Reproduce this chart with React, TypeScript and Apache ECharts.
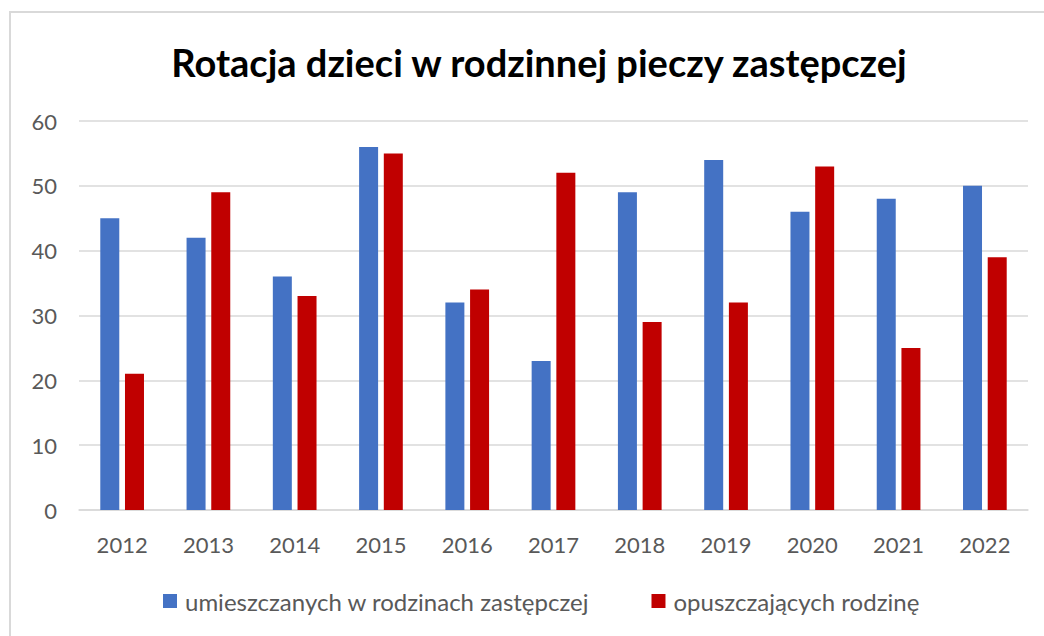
import React, { useEffect, useRef } from "react";
import * as echarts from "echarts";

const years = ["2012", "2013", "2014", "2015", "2016", "2017", "2018", "2019", "2020", "2021", "2022"];
const placed = [45, 42, 36, 56, 32, 23, 49, 54, 46, 48, 50];
const leaving = [21, 49, 33, 55, 34, 52, 29, 32, 53, 25, 39];
const seriesNames = ["umieszczanych w rodzinach zastępczej", "opuszczających rodzinę"];
const titleText = "Rotacja dzieci w rodzinnej pieczy zastępczej";

const FONT = "Lato";

export default function App() {
  const ref = useRef<HTMLDivElement>(null);
  useEffect(() => {
    if (!ref.current) return;
    const chart = echarts.init(ref.current, undefined, { renderer: "svg" });
    chart.setOption({
      animation: false,
      backgroundColor: "#ffffff",
      title: {
        text: titleText,
        left: 534,
        textAlign: "center",
        top: 38,
        textStyle: { fontFamily: FONT, fontWeight: "bold", fontSize: 38, color: "#000000" },
      },
      graphic: [
        {
          type: "rect",
          shape: { x: 10, y: 12, width: 1060, height: 660 },
          style: { fill: "none", stroke: "#d9d9d9", lineWidth: 2 },
          silent: true,
        },
      ],
      legend: {
        left: 158,
        top: 584,
        itemWidth: 14,
        itemHeight: 14,
        itemGap: 62,
        icon: "rect",
        textStyle: { fontFamily: FONT, fontSize: 24, color: "#595959", padding: [0, 0, 0, 3] },
        data: seriesNames,
      },
      grid: { left: 79, right: 16, top: 121, bottom: 126, containLabel: false },
      xAxis: {
        type: "category",
        data: years,
        axisLine: { lineStyle: { color: "#d9d9d9", width: 1.5 } },
        axisTick: { show: false },
        axisLabel: { fontFamily: FONT, fontSize: 22, color: "#595959", margin: 23 },
      },
      yAxis: {
        type: "value",
        min: 0,
        max: 60,
        interval: 10,
        axisLine: { show: false },
        axisTick: { show: false },
        splitLine: { lineStyle: { color: "#d9d9d9", width: 1.5 } },
        axisLabel: { fontFamily: FONT, fontSize: 22, color: "#595959", margin: 22 },
      },
      series: [
        {
          name: seriesNames[0],
          type: "bar",
          data: placed,
          barWidth: 19,
          barGap: "30%",
          itemStyle: { color: "#4472C4" },
        },
        {
          name: seriesNames[1],
          type: "bar",
          data: leaving,
          barWidth: 19,
          barGap: "30%",
          itemStyle: { color: "#C00000" },
        },
      ],
    });
    return () => chart.dispose();
  }, []);
  return (
    <div
      ref={ref}
      style={{ position: "fixed", left: 0, top: 0, width: 1044, height: 636 }}
    />
  );
}
